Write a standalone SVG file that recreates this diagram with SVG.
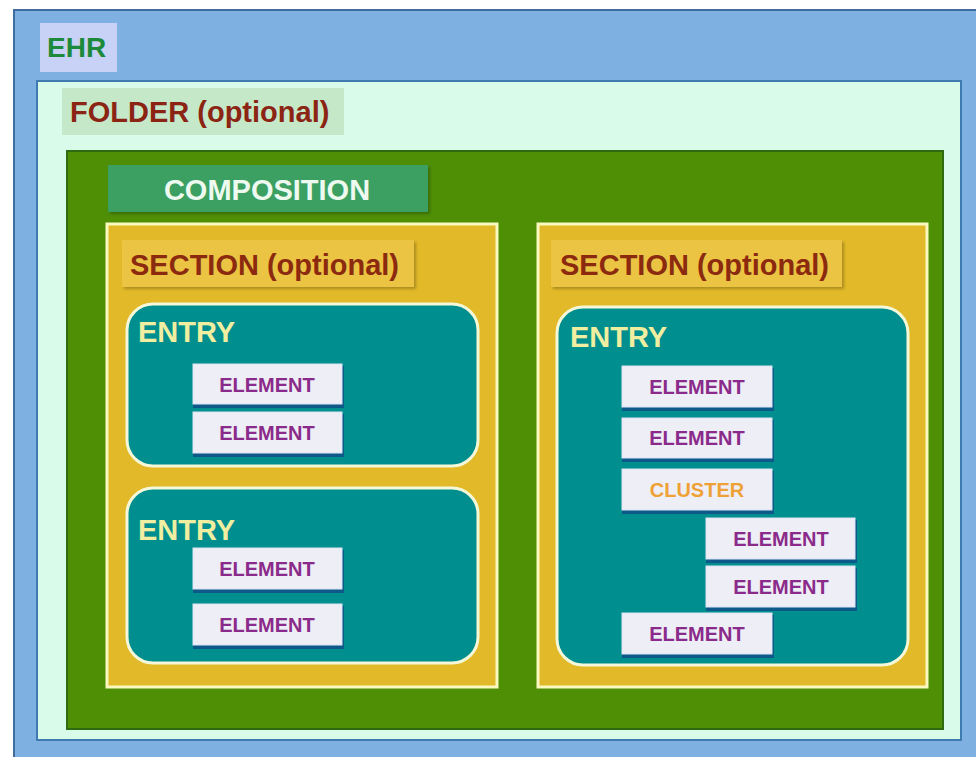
<svg xmlns="http://www.w3.org/2000/svg" width="976" height="757" viewBox="0 0 976 757">
<defs>
<style>
.lbl{font-family:"Liberation Sans",Arial,sans-serif;font-weight:bold;}
.big{font-size:29px;}
.el{fill:#eeeef6;stroke:#dde4f4;stroke-width:1;}
.elsh{fill:#0d5a8a;}
.elt{font-family:"Liberation Sans",Arial,sans-serif;font-weight:bold;font-size:20px;fill:#8a2a8a;text-anchor:middle;}
.entry{fill:#008e8e;stroke:#f4f8d8;stroke-width:3;}
.entryt{fill:#f0eea0;}
.sec{fill:#e2b928;stroke:#fafac0;stroke-width:3;}
.secl{fill:#eac442;}
.sect{fill:#8c2a10;}
</style>
<filter id="sh" x="-10%" y="-10%" width="130%" height="140%"><feDropShadow dx="2" dy="2" stdDeviation="1.5" flood-color="#000" flood-opacity="0.25"/></filter>
</defs>
<rect width="976" height="757" fill="#ffffff"/>
<g id="ehr">
<rect x="14" y="10" width="975" height="760" fill="#7eb0e2" stroke="#3f6e9e" stroke-width="2"/>
<rect x="40" y="23" width="77" height="49" fill="#c8d2f6"/>
<text class="lbl" x="47" y="57" font-size="28" fill="#1c8a3a">EHR</text>
</g>
<g id="folder">
<rect x="37" y="81" width="924" height="659" fill="#d9fbea" stroke="#3f7ab0" stroke-width="2"/>
<rect x="62" y="88" width="282" height="47" fill="#c4e8c8"/>
<text class="lbl big" x="70" y="122" fill="#8c2414">FOLDER (optional)</text>
</g>
<g id="composition">
<rect x="67" y="151" width="876" height="578" fill="#4e8f06" stroke="#2e6a10" stroke-width="2"/>
<rect x="108" y="165" width="320" height="47" fill="#3aa062" filter="url(#sh)"/>
<text class="lbl big" x="267" y="200" fill="#eefaf0" text-anchor="middle">COMPOSITION</text>
</g>
<g id="section-left">
<rect class="sec" x="107" y="224" width="390" height="463"/>
<rect class="secl" x="122" y="240" width="292" height="47" filter="url(#sh)"/>
<text class="lbl big sect" x="130" y="275">SECTION (optional)</text>
</g>
<g id="entry-left-1">
<rect class="entry" x="127" y="304" width="351" height="162" rx="26"/>
<text class="lbl big entryt" x="138" y="342">ENTRY</text>
</g>
<g id="el-l1a"><rect class="elsh" x="193" y="366" width="151" height="42"/><rect class="el" x="193" y="364" width="149" height="40"/><text class="elt" x="267" y="392">ELEMENT</text></g>
<g id="el-l1b"><rect class="elsh" x="193" y="414" width="151" height="43"/><rect class="el" x="193" y="412" width="149" height="41"/><text class="elt" x="267" y="440">ELEMENT</text></g>
<g id="entry-left-2">
<rect class="entry" x="127" y="488" width="351" height="175" rx="26"/>
<text class="lbl big entryt" x="138" y="540">ENTRY</text>
</g>
<g id="el-l2a"><rect class="elsh" x="193" y="550" width="151" height="43"/><rect class="el" x="193" y="548" width="149" height="41"/><text class="elt" x="267" y="576">ELEMENT</text></g>
<g id="el-l2b"><rect class="elsh" x="193" y="606" width="151" height="43"/><rect class="el" x="193" y="604" width="149" height="41"/><text class="elt" x="267" y="632">ELEMENT</text></g>
<g id="section-right">
<rect class="sec" x="538" y="224" width="389" height="463"/>
<rect class="secl" x="551" y="240" width="291" height="47" filter="url(#sh)"/>
<text class="lbl big sect" x="560" y="275">SECTION (optional)</text>
</g>
<g id="entry-right">
<rect class="entry" x="557" y="307" width="351" height="358" rx="26"/>
<text class="lbl big entryt" x="570" y="347">ENTRY</text>
</g>
<g id="el-r1"><rect class="elsh" x="622" y="368" width="152" height="43"/><rect class="el" x="622" y="366" width="150" height="41"/><text class="elt" x="697" y="394">ELEMENT</text></g>
<g id="el-r2"><rect class="elsh" x="622" y="420" width="152" height="42"/><rect class="el" x="622" y="418" width="150" height="40"/><text class="elt" x="697" y="445">ELEMENT</text></g>
<g id="cluster"><rect class="elsh" x="622" y="471" width="152" height="43"/><rect class="el" x="622" y="469" width="150" height="41"/><text class="elt" x="697" y="497" style="fill:#eea236">CLUSTER</text></g>
<g id="el-r3"><rect class="elsh" x="706" y="520" width="151" height="43"/><rect class="el" x="706" y="518" width="149" height="41"/><text class="elt" x="781" y="546">ELEMENT</text></g>
<g id="el-r4"><rect class="elsh" x="706" y="568" width="151" height="43"/><rect class="el" x="706" y="566" width="149" height="41"/><text class="elt" x="781" y="594">ELEMENT</text></g>
<g id="el-r5"><rect class="elsh" x="622" y="615" width="152" height="43"/><rect class="el" x="622" y="613" width="150" height="41"/><text class="elt" x="697" y="641">ELEMENT</text></g>
<g id="connectors"></g>
</svg>
